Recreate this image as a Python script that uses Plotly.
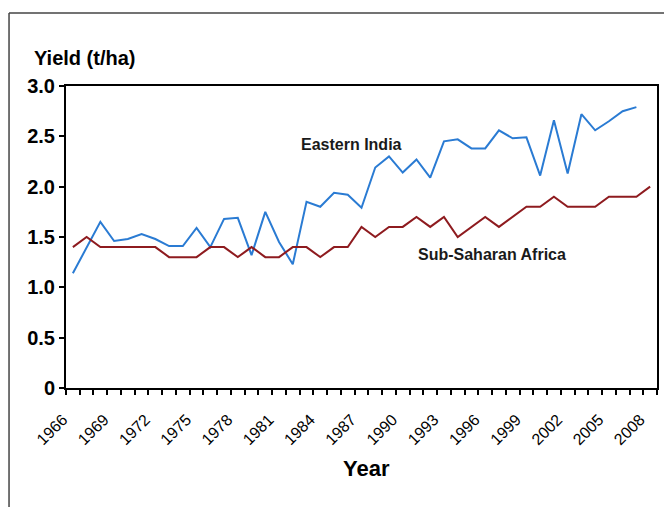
import plotly.graph_objects as go

years = list(range(1966, 2009))

eastern_india = [1.14, 1.40, 1.65, 1.46, 1.48, 1.53, 1.48, 1.41, 1.41, 1.59,
                 1.40, 1.68, 1.69, 1.32, 1.75, 1.45, 1.23, 1.85, 1.80, 1.94,
                 1.92, 1.79, 2.19, 2.30, 2.14, 2.27, 2.09, 2.45, 2.47, 2.38,
                 2.38, 2.56, 2.48, 2.49, 2.11, 2.66, 2.13, 2.72, 2.56, 2.65,
                 2.75, 2.79]
eastern_years = years[:len(eastern_india)]

ssa = [1.40, 1.50, 1.40, 1.40, 1.40, 1.40, 1.40, 1.30, 1.30, 1.30,
       1.40, 1.40, 1.30, 1.40, 1.30, 1.30, 1.40, 1.40, 1.30, 1.40,
       1.40, 1.60, 1.50, 1.60, 1.60, 1.70, 1.60, 1.70, 1.50, 1.60,
       1.70, 1.60, 1.70, 1.80, 1.80, 1.90, 1.80, 1.80, 1.80, 1.90,
       1.90, 1.90, 2.00]

x_tick_years = years[::3]
y_ticks = [0, 0.5, 1.0, 1.5, 2.0, 2.5, 3.0]
y_tick_text = ["0", "0.5", "1.0", "1.5", "2.0", "2.5", "3.0"]

FONT = "Liberation Sans, Arial, sans-serif"

fig = go.Figure()
fig.add_trace(go.Scatter(x=eastern_years, y=eastern_india, mode="lines",
                         name="Eastern India",
                         line=dict(color="#2A7BD3", width=2)))
fig.add_trace(go.Scatter(x=years, y=ssa, mode="lines",
                         name="Sub-Saharan Africa",
                         line=dict(color="#8E1B1F", width=2)))

# the page body adds an 8px offset, so the figure is 8px smaller
fig.update_layout(
    width=664, height=499,
    margin=dict(l=58, r=15, t=78, b=119),
    paper_bgcolor="white", plot_bgcolor="white",
    showlegend=False,
    font=dict(family=FONT, color="black"),
)

fig.update_xaxes(
    range=[years[0] - 0.5, years[-1] + 0.5],
    tickmode="array", tickvals=x_tick_years,
    ticktext=[str(y) for y in x_tick_years],
    tickangle=-45, ticks="", ticklen=0,
    ticklabelstandoff=14, ticklabelshift=-10,
    tickfont=dict(size=16, family=FONT, color="black"),
    showgrid=False, zeroline=False, automargin=False,
    showline=True, linecolor="black", linewidth=2, mirror=True,
    minor=dict(tickmode="array",
               tickvals=[y - 0.5 for y in years] + [years[-1] + 0.5],
               ticks="outside", ticklen=5, tickwidth=1.5, tickcolor="black",
               showgrid=False),
)
fig.update_yaxes(
    range=[0, 3], tickmode="array", tickvals=y_ticks, ticktext=y_tick_text,
    ticks="outside", ticklen=5, tickwidth=1.5, tickcolor="black",
    tickfont=dict(size=20, family=FONT, color="black", weight="bold"),
    showgrid=False, zeroline=False, automargin=False,
    showline=True, linecolor="black", linewidth=2, mirror=True,
)

annots = [
    dict(text="<b>Yield (t/ha)</b>", xref="paper", yref="paper",
         x=-0.0575, y=1.0927, xanchor="left", yanchor="middle",
         showarrow=False, font=dict(size=20, family=FONT, color="black")),
    dict(text="<b>Year</b>", xref="paper", yref="paper",
         x=0.509, y=-0.265, xanchor="center", yanchor="middle",
         showarrow=False, font=dict(size=22, family=FONT, color="black")),
    dict(text="<b>Eastern India</b>", xref="x", yref="y",
         x=1986.24, y=2.414, xanchor="center", yanchor="middle",
         showarrow=False, font=dict(size=16, family=FONT, color="#1a1a1a")),
    dict(text="<b>Sub-Saharan Africa</b>", xref="x", yref="y",
         x=1996.5, y=1.331, xanchor="center", yanchor="middle",
         showarrow=False, font=dict(size=16, family=FONT, color="#1a1a1a")),
]
fig.update_layout(annotations=annots)

# outer frame around the figure
fig.add_shape(type="line", xref="paper", yref="paper",
              x0=-0.0964, x1=-0.0964, y0=1.2417, y1=-0.45,
              line=dict(color="#444444", width=1.5))
fig.add_shape(type="line", xref="paper", yref="paper",
              x0=-0.0964, x1=1.03, y0=1.2417, y1=1.2417,
              line=dict(color="#444444", width=1.5))
fig.add_shape(type="line", xref="paper", yref="paper",
              x0=1.0186, x1=1.0186, y0=1.2417, y1=-0.45,
              line=dict(color="#dddddd", width=1))

fig.write_html("out.html")
